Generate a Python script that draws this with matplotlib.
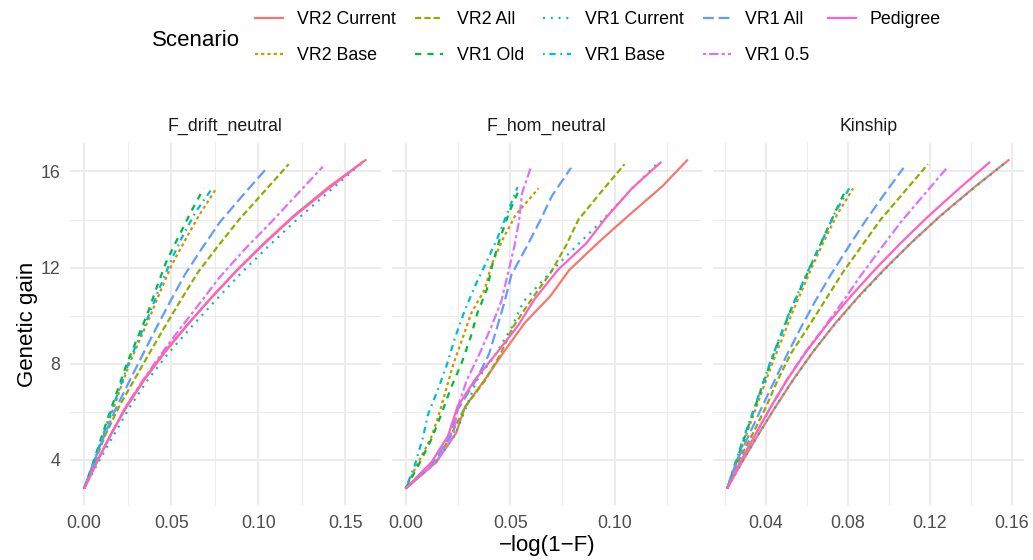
import matplotlib.pyplot as plt
from matplotlib.lines import Line2D
from matplotlib.ticker import MultipleLocator, AutoMinorLocator, FormatStrFormatter

plt.rcParams['font.family'] = ['Liberation Sans', 'DejaVu Sans']

# Scenarios, in legend order
scenarios = ["VR2 Current", "VR2 Base", "VR2 All", "VR1 Old", "VR1 Current",
             "VR1 Base", "VR1 All", "VR1 0.5", "Pedigree"]
colors = ["#F8766D", "#D39200", "#93AA00", "#00BA38", "#00C19F",
          "#00B9E3", "#619CFF", "#DB72FB", "#FF61C3"]
panels = ["F_drift_neutral", "F_hom_neutral", "Kinship"]

# Genetic gain per scenario, and the three inbreeding / kinship measures
gain_vr2_current = [2.8, 3.9, 5.1, 6.2, 7.4, 8.5, 9.7, 10.8, 11.9, 13.1, 14.2, 15.4, 16.5]
drift_vr2_current = [0, 0.0073, 0.0157, 0.0244, 0.0353, 0.0467, 0.0603, 0.0736, 0.0878, 0.1045, 0.121, 0.1412, 0.162]
hom_vr2_current = [0, 0.0147, 0.0241, 0.0284, 0.0384, 0.0471, 0.057, 0.0691, 0.0783, 0.0929, 0.1071, 0.123, 0.135]
kin_vr2_current = [0.021, 0.0283, 0.0366, 0.0446, 0.0538, 0.063, 0.074, 0.0852, 0.0974, 0.1117, 0.1257, 0.1425, 0.1588]

gain_vr2_base = [2.8, 3.8, 4.9, 5.9, 7.0, 8.0, 9.0, 10.1, 11.1, 12.1, 13.2, 14.2, 15.3]
drift_vr2_base = [0, 0.0052, 0.0107, 0.0156, 0.021, 0.026, 0.032, 0.0386, 0.0443, 0.0502, 0.0584, 0.0662, 0.0759]
hom_vr2_base = [0, 0.0055, 0.0121, 0.016, 0.0196, 0.0229, 0.027, 0.0314, 0.0379, 0.041, 0.0466, 0.0527, 0.0636]
kin_vr2_base = [0.021, 0.0252, 0.0298, 0.034, 0.0387, 0.043, 0.0477, 0.0527, 0.0578, 0.0628, 0.0688, 0.0747, 0.0825]

gain_vr2_all = [2.8, 3.9, 5.0, 6.2, 7.3, 8.4, 9.5, 10.6, 11.8, 12.9, 14.0, 15.2, 16.3]
drift_vr2_all = [0, 0.006, 0.012, 0.02, 0.0285, 0.0372, 0.046, 0.0551, 0.0653, 0.0769, 0.089, 0.1038, 0.1174]
hom_vr2_all = [0, 0.0145, 0.0215, 0.0285, 0.038, 0.0454, 0.0512, 0.0596, 0.0695, 0.0766, 0.0827, 0.094, 0.1047]
kin_vr2_all = [0.021, 0.0263, 0.033, 0.040, 0.0456, 0.052, 0.0604, 0.0686, 0.0775, 0.0867, 0.096, 0.108, 0.119]

gain_vr1_old = [2.8, 3.8, 4.9, 5.9, 7.0, 8.0, 9.1, 10.1, 11.1, 12.2, 13.2, 14.3, 15.3]
drift_vr1_old = [0, 0.0048, 0.0098, 0.0144, 0.0197, 0.0245, 0.0308, 0.0365, 0.0413, 0.0469, 0.0536, 0.0612, 0.0686]
hom_vr1_old = [0, 0.0063, 0.0126, 0.0171, 0.0217, 0.0267, 0.0311, 0.0343, 0.0389, 0.0417, 0.0451, 0.0495, 0.0546]
kin_vr1_old = [0.021, 0.025, 0.0294, 0.0334, 0.0379, 0.042, 0.0469, 0.0514, 0.0567, 0.0625, 0.0678, 0.0737, 0.0793]

gain_vr1_current = [2.8, 3.9, 5.0, 6.2, 7.3, 8.4, 9.5, 10.6, 11.8, 12.9, 14.0, 15.2, 16.3]
drift_vr1_current = [0, 0.0082, 0.0168, 0.0263, 0.0363, 0.048, 0.0612, 0.075, 0.0905, 0.106, 0.1222, 0.141, 0.1586]
hom_vr1_current = [0, 0.0141, 0.0235, 0.029, 0.034, 0.0431, 0.0507, 0.0565, 0.0691, 0.0817, 0.0945, 0.1073, 0.120]
kin_vr1_current = [0.021, 0.0283, 0.0359, 0.0446, 0.053, 0.0621, 0.0722, 0.0834, 0.0966, 0.1093, 0.1232, 0.1398, 0.156]

gain_vr1_base = [2.8, 3.8, 4.9, 5.9, 7.0, 8.0, 9.1, 10.1, 11.2, 12.2, 13.2, 14.3, 15.35]
drift_vr1_base = [0, 0.0051, 0.0103, 0.015, 0.0205, 0.0254, 0.0318, 0.0376, 0.0436, 0.0493, 0.0558, 0.0639, 0.074]
hom_vr1_base = [0, 0.0045, 0.0082, 0.0108, 0.0158, 0.0199, 0.0237, 0.0278, 0.033, 0.0385, 0.0438, 0.0488, 0.0535]
kin_vr1_base = [0.021, 0.0247, 0.029, 0.0332, 0.0377, 0.0418, 0.0467, 0.0513, 0.057, 0.0623, 0.0678, 0.0738, 0.081]

gain_vr1_all = [2.8, 3.9, 5.0, 6.1, 7.3, 8.4, 9.5, 10.6, 11.7, 12.8, 13.9, 15.0, 16.15]
drift_vr1_all = [0, 0.0056, 0.0116, 0.018, 0.0262, 0.0338, 0.0415, 0.0495, 0.0578, 0.0676, 0.078, 0.091, 0.105]
hom_vr1_all = [0, 0.0135, 0.0214, 0.025, 0.0336, 0.0399, 0.0437, 0.0474, 0.0506, 0.0575, 0.064, 0.0701, 0.0791]
kin_vr1_all = [0.021, 0.0255, 0.0315, 0.0375, 0.0442, 0.0504, 0.057, 0.064, 0.0716, 0.0798, 0.0882, 0.0973, 0.1071]

gain_vr1_05 = [2.8, 3.9, 5.0, 6.2, 7.3, 8.4, 9.5, 10.6, 11.6, 12.8, 13.9, 15.1, 16.2]
drift_vr1_05 = [0, 0.0073, 0.015, 0.0238, 0.0337, 0.0442, 0.0555, 0.0673, 0.0778, 0.0927, 0.1075, 0.1229, 0.137]
hom_vr1_05 = [0, 0.0145, 0.0228, 0.025, 0.0292, 0.0353, 0.0408, 0.0458, 0.0485, 0.0518, 0.0542, 0.0557, 0.060]
kin_vr1_05 = [0.021, 0.0273, 0.0345, 0.0424, 0.050, 0.0585, 0.0683, 0.0776, 0.0857, 0.0961, 0.1059, 0.1178, 0.1288]

gain_pedigree = [2.8, 3.9, 5.0, 6.2, 7.3, 8.5, 9.6, 10.7, 11.9, 13.0, 14.1, 15.3, 16.4]
drift_pedigree = [0, 0.0072, 0.015, 0.024, 0.034, 0.0462, 0.059, 0.0725, 0.088, 0.1035, 0.12, 0.1405, 0.160]
hom_pedigree = [0, 0.0124, 0.0203, 0.0248, 0.0329, 0.0441, 0.0539, 0.0618, 0.0728, 0.0863, 0.0961, 0.1083, 0.1223]
kin_pedigree = [0.021, 0.0275, 0.0344, 0.0423, 0.0501, 0.0596, 0.0695, 0.0803, 0.093, 0.1055, 0.1188, 0.1344, 0.1494]

gains = [gain_vr2_current, gain_vr2_base, gain_vr2_all, gain_vr1_old, gain_vr1_current,
         gain_vr1_base, gain_vr1_all, gain_vr1_05, gain_pedigree]
xs_by_panel = [
    [drift_vr2_current, drift_vr2_base, drift_vr2_all, drift_vr1_old, drift_vr1_current,
     drift_vr1_base, drift_vr1_all, drift_vr1_05, drift_pedigree],
    [hom_vr2_current, hom_vr2_base, hom_vr2_all, hom_vr1_old, hom_vr1_current,
     hom_vr1_base, hom_vr1_all, hom_vr1_05, hom_pedigree],
    [kin_vr2_current, kin_vr2_base, kin_vr2_all, kin_vr1_old, kin_vr1_current,
     kin_vr1_base, kin_vr1_all, kin_vr1_05, kin_pedigree],
]

# ggplot default linetypes (solid, 22, 42, 44, 13, 1343, 73, 2262), pedigree solid
styles = ['-', (0, (1.4, 1.4)), (0, (2.8, 1.4)), (0, (2.8, 2.8)), (0, (0.9, 2.6)),
          (0, (0.8, 2.1, 2.8, 2.1)), (0, (4.9, 2.1)), (0, (1.4, 1.4, 4.2, 1.4)), '-']
lw = 1.6

W, H = 1033, 560
fig = plt.figure(figsize=(W / 100, H / 100), dpi=100)

lefts = [70, 391.5, 713]
pw = 310.5
top, bottom = 143, 505
major_x = [0.05, 0.05, 0.04]

axes = []
for p, name in enumerate(panels):
    ax = fig.add_axes([lefts[p] / W, 1 - bottom / H, pw / W, (bottom - top) / H],
                      sharey=axes[0] if axes else None)
    axes.append(ax)
    for s in range(len(scenarios)):
        ax.plot(xs_by_panel[p][s], gains[s], color=colors[s], lw=lw,
                linestyle=styles[s], solid_capstyle='butt')
    ax.xaxis.set_major_locator(MultipleLocator(major_x[p]))
    ax.xaxis.set_minor_locator(AutoMinorLocator(2))
    ax.xaxis.set_major_formatter(FormatStrFormatter('%.2f'))
    ax.yaxis.set_major_locator(MultipleLocator(4))
    ax.yaxis.set_minor_locator(AutoMinorLocator(2))
    ax.yaxis.set_major_formatter(FormatStrFormatter('%d'))
    ax.grid(which='major', color='#EBEBEB', lw=1.4)
    ax.grid(which='minor', color='#EBEBEB', lw=0.7)
    ax.set_axisbelow(True)
    for sp in ax.spines.values():
        sp.set_visible(False)
    ax.tick_params(which='both', length=0, pad=7, labelsize=12.8, labelcolor='#4D4D4D')
    if p > 0:
        ax.tick_params(labelleft=False)
    fig.text((lefts[p] + pw / 2) / W, 1 - 131 / H, name, ha='center', va='baseline',
             fontsize=12.8, color='#1A1A1A')

fig.text((lefts[0] + lefts[2] + pw) / 2 / W, 1 - 545 / H, "\u2212log(1\u2212F)",
         ha='center', va='center', fontsize=16)
fig.text(28 / W, 1 - 324 / H, "Genetic gain", rotation=90, ha='center', va='center', fontsize=16)

# Legend across the top, title to the left
fig.text(152 / W, 1 - 40 / H, "Scenario", ha='left', va='center', fontsize=16)
handles = [Line2D([], [], color=c, lw=lw, linestyle=st) for c, st in zip(colors, styles)]
fig.legend(handles, scenarios, ncol=5, loc='upper left', bbox_to_anchor=(255 / W, 1 - 11 / H),
           frameon=False, fontsize=12.8, handlelength=1.57, handletextpad=0.79,
           columnspacing=1.07, labelspacing=1.08, borderpad=0, borderaxespad=0)

fig.savefig("out.png", dpi=100)
